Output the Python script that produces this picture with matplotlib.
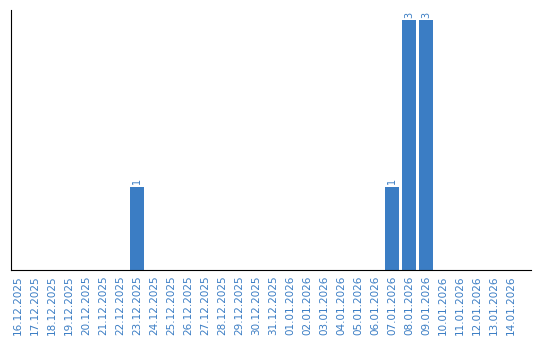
import matplotlib.pyplot as plt
import numpy as np

dates = ["16.12.2025", "17.12.2025", "18.12.2025", "19.12.2025", "20.12.2025",
         "21.12.2025", "22.12.2025", "23.12.2025", "24.12.2025", "25.12.2025",
         "26.12.2025", "27.12.2025", "28.12.2025", "29.12.2025", "30.12.2025",
         "31.12.2025", "01.01.2026", "02.01.2026", "03.01.2026", "04.01.2026",
         "05.01.2026", "06.01.2026", "07.01.2026", "08.01.2026", "09.01.2026",
         "10.01.2026", "11.01.2026", "12.01.2026", "13.01.2026", "14.01.2026"]
counts = [0, 0, 0, 0, 0, 0, 0, 1, 0, 0,
          0, 0, 0, 0, 0, 0, 0, 0, 0, 0,
          0, 0, 1, 3, 3, 0, 0, 0, 0, 0]

blue = "#3b7dc4"

fig = plt.figure(figsize=(5.4, 3.4), dpi=100)
ax = fig.add_axes([11/540, 70/340, 520/540, 260/340])

x = np.arange(len(dates))
ax.bar(x, counts, width=0.82, color=blue)

for xi, c in zip(x, counts):
    if c > 0:
        ax.text(xi, c + 0.03, str(c), rotation=90, ha="center", va="bottom",
                color=blue, fontsize=7)

ax.set_xlim(-0.41, len(dates) + 0.18)
ax.set_ylim(0, 3.12)
ax.set_xticks(x)
ax.set_xticklabels(dates, rotation=90, color=blue, fontsize=7.5)
ax.tick_params(axis="x", length=0, pad=4)
ax.set_yticks([])

ax.spines["top"].set_visible(False)
ax.spines["right"].set_visible(False)

fig.savefig("out.png", dpi=100)
